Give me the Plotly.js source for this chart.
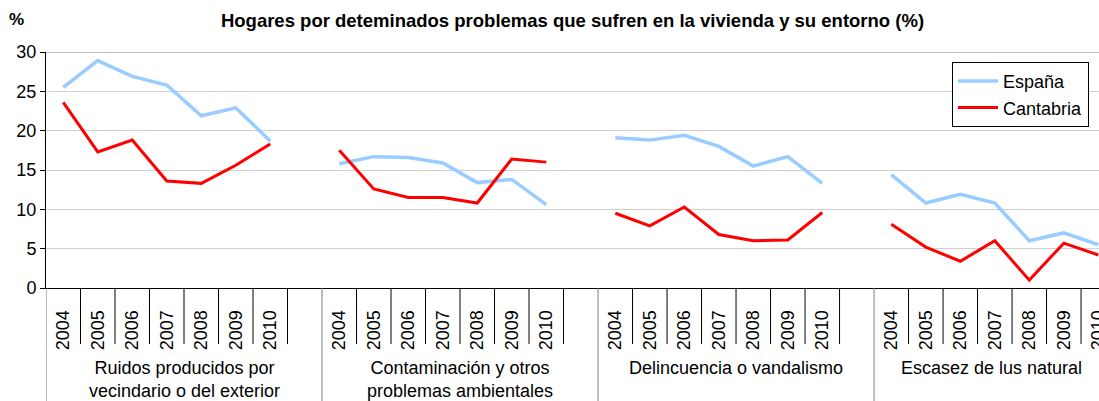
<!DOCTYPE html>
<html>
<head>
<meta charset="utf-8">
<script src="https://cdn.plot.ly/plotly-3.0.1.min.js"></script>
<style>html,body{margin:0;padding:0;background:#fff;}#chart{width:1099px;height:401px;}</style>
</head>
<body>
<div id="chart"></div>
<script>
// ---- Data ----
const years = ['2004', '2005', '2006', '2007', '2008', '2009', '2010'];
const groups = [
  'Ruidos producidos por<br>vecindario o del exterior',
  'Contaminación y otros<br>problemas ambientales',
  'Delincuencia o vandalismo',
  'Escasez de lus natural'
];
const espanaRuidos = [25.5, 28.9, 26.9, 25.8, 21.9, 22.9, 18.7];
const espanaContaminacion = [15.8, 16.7, 16.6, 15.9, 13.4, 13.8, 10.6];
const espanaDelincuencia = [19.1, 18.8, 19.4, 18.0, 15.5, 16.7, 13.3];
const espanaEscasez = [14.4, 10.8, 11.9, 10.8, 6.0, 7.0, 5.5];
const cantabriaRuidos = [23.6, 17.3, 18.8, 13.6, 13.3, 15.6, 18.3];
const cantabriaContaminacion = [17.5, 12.6, 11.5, 11.5, 10.8, 16.4, 16.0];
const cantabriaDelincuencia = [9.5, 7.9, 10.3, 6.8, 6.0, 6.1, 9.6];
const cantabriaEscasez = [8.1, 5.2, 3.4, 6.0, 1.0, 5.7, 4.2];

const espana = [espanaRuidos, espanaContaminacion, espanaDelincuencia, espanaEscasez];
const cantabria = [cantabriaRuidos, cantabriaContaminacion, cantabriaDelincuencia, cantabriaEscasez];

// ---- Build ----
const slotsPerGroup = years.length + 1;
function build(series) {
  const xs = [], ys = [];
  series.forEach((vals, g) => {
    vals.forEach((v, i) => { xs.push(g * slotsPerGroup + i); ys.push(v); });
    xs.push(null); ys.push(null);
  });
  return {xs, ys};
}
const e = build(espana), c = build(cantabria);
const font = 'Arial, "Liberation Sans", sans-serif';

const tickvals = [], ticktext = [];
groups.forEach((g, gi) => years.forEach((y, i) => { tickvals.push(gi * slotsPerGroup + i); ticktext.push(y); }));

const shapes = [];
const nSlots = groups.length * slotsPerGroup;
for (let k = 0; k <= nSlots; k++) {
  const isGroup = k % slotsPerGroup === 0;
  shapes.push({type: 'line', xref: 'x', yref: 'paper', x0: k - 0.5, x1: k - 0.5,
    y0: 0, y1: isGroup ? -0.48 : -0.237, line: {color: isGroup ? '#808080' : '#000000', width: 1}});
}
shapes.push({type: 'line', xref: 'paper', yref: 'y', x0: 0, x1: 1, y0: 30, y1: 30, line: {color: '#808080', width: 1}});

const annotations = groups.map((g, gi) => ({
  text: g, xref: 'x', yref: 'paper',
  x: gi === groups.length - 1 ? gi * slotsPerGroup + 2.9 : gi * slotsPerGroup + (slotsPerGroup - 1) / 2,
  y: -0.29, yanchor: 'top', xanchor: 'center', showarrow: false,
  font: {family: font, size: 18, color: '#000'}
}));
annotations.push({text: '<b>%</b>', xref: 'paper', yref: 'paper', x: -0.028, y: 1.136,
  xanchor: 'center', yanchor: 'middle', showarrow: false, font: {family: font, size: 17, color: '#000'}});

const traces = [
  {x: e.xs, y: e.ys, name: 'España', mode: 'lines', connectgaps: false, line: {color: '#99CCFF', width: 3.5}},
  {x: c.xs, y: c.ys, name: 'Cantabria', mode: 'lines', connectgaps: false, line: {color: '#FF0000', width: 3}}
];

const layout = {
  width: 1099, height: 401,
  margin: {l: 46, r: 0, t: 52, b: 113, pad: 0},
  paper_bgcolor: '#fff', plot_bgcolor: '#fff',
  font: {family: font, size: 18, color: '#000'},
  title: {text: '<b>Hogares por deteminados problemas que sufren en la vivienda y su entorno (%)</b>',
    xref: 'paper', x: 0.5, xanchor: 'center', yref: 'container', y: 0.95, yanchor: 'middle',
    font: {family: font, size: 18.5, color: '#000'}},
  xaxis: {range: [-0.5, 30.02], tickvals: tickvals, ticktext: ticktext, tickangle: -90,
    ticks: '', showgrid: false, zeroline: false, showline: true, linecolor: '#000', linewidth: 1,
    tickfont: {family: font, size: 18, color: '#000'}, ticklabelstandoff: 14,
    ticklabeloverflow: 'allow', fixedrange: true},
  yaxis: {range: [0, 30], tickvals: [0, 5, 10, 15, 20, 25, 30], ticks: 'outside', ticklen: 5,
    tickcolor: '#000', showline: true, linecolor: '#000', linewidth: 1, gridcolor: '#d0d0d0',
    zeroline: false, tickfont: {family: font, size: 18, color: '#000'}, fixedrange: true},
  showlegend: true,
  legend: {x: 0.8604, xanchor: 'left', y: 0.958, yanchor: 'top', bordercolor: '#000', borderwidth: 1,
    bgcolor: '#fff', font: {family: font, size: 18, color: '#000'}, tracegroupgap: 0, itemwidth: 40},
  shapes: shapes, annotations: annotations
};
Plotly.newPlot('chart', traces, layout, {displayModeBar: false, staticPlot: true});
</script>
</body>
</html>
